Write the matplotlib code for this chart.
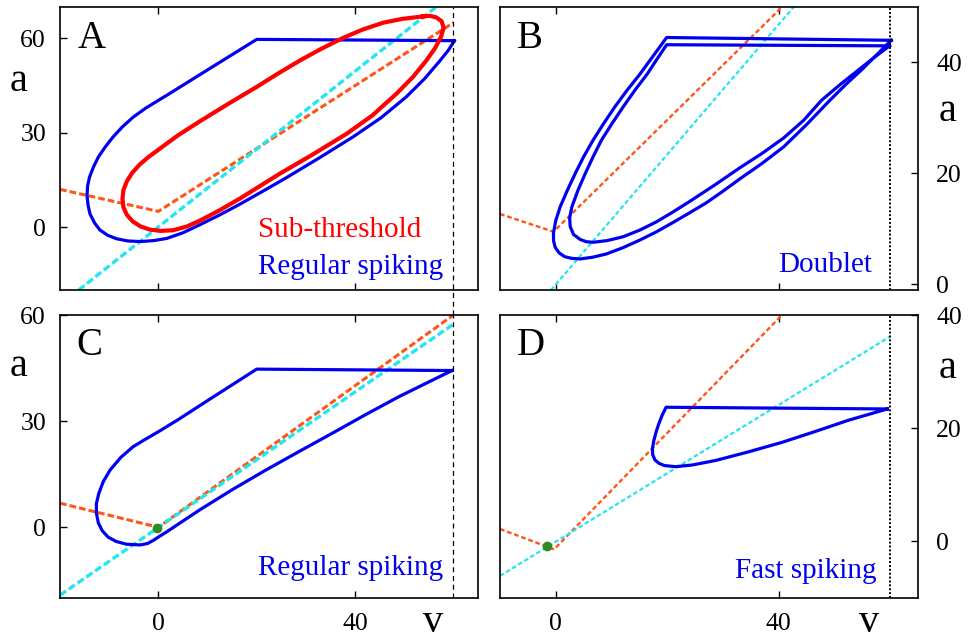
import numpy as np
import matplotlib.pyplot as plt

plt.rcParams['font.family'] = ['Liberation Serif', 'DejaVu Serif']

# ---- panel A: sub-threshold and regular spiking ----
a_rs_v = [60.2, 20.0, 10.0, 2.0, 0.0, -2.6, -5.1, -7.3, -9.2, -10.8, -12.2, -13.2, -14.0,
          -14.4, -14.5, -14.3, -13.9, -13.0, -11.9, -10.3, -8.5, -6.2, -3.7, -1.0, 1.7,
          5.0, 8.5, 12.5, 16.6, 21.0, 25.8, 32.5, 39.6, 45.3, 50.4, 54.2, 57.2, 59.0, 60.2]
a_rs_a = [59.3, 59.7, 50.0, 42.2, 40.3, 37.8, 35.0, 31.9, 28.7, 25.5, 22.3, 19.1, 15.9,
          13.0, 10.0, 7.0, 4.2, 1.4, -0.9, -2.6, -3.7, -4.4, -4.6, -4.3, -3.6,
          -1.8, 0.8, 3.9, 7.3, 11.2, 15.5, 21.8, 28.7, 34.8, 41.4, 47.3, 52.8, 56.3, 59.3]
a_sub_v = [53.8, 49.5, 45.7, 41.5, 37.6, 33.0, 28.8, 24.3, 20.0, 14.0, 8.5, 4.0, 0.0,
           -2.0, -3.8, -5.3, -6.4, -7.1, -7.3, -7.1, -6.4, -5.2, -3.6, -1.7, 0.5, 3.0,
           5.8, 8.5, 12.5, 16.6, 20.6, 24.7, 31.5, 38.3, 43.5, 48.4, 51.8, 54.5, 56.3,
           57.5, 58.0, 57.6, 56.5, 55.2, 53.8]
a_sub_a = [67.0, 66.2, 65.0, 62.8, 60.2, 56.6, 53.0, 48.8, 44.6, 39.0, 33.7, 29.2, 24.6,
           22.3, 19.9, 17.3, 14.6, 11.8, 9.0, 6.3, 3.9, 1.8, 0.2, -0.8, -1.2, -1.0,
           0.2, 2.1, 5.4, 9.1, 13.0, 17.0, 23.2, 29.7, 35.5, 42.4, 47.8, 53.0, 57.0,
           60.6, 63.4, 65.5, 66.7, 67.2, 67.0]
a_vnull_v = [-20, 0, 60]
a_vnull_a = [12, 5, 65]
a_anull_v = [-16.2, 56.5]
a_anull_a = [-20, 70]

# ---- panel B: doublet ----
b_out_v = [60.2, 19.9, 17.5, 15.1, 12.8, 10.6, 8.6, 6.7, 5.0, 3.5, 2.1, 0.8, 0.0, -0.4,
           -0.4, -0.1, 0.6, 1.6, 2.9, 4.4, 6.6, 9.1, 12.0, 15.1, 18.1, 21.1, 24.0, 27.0,
           30.0, 33.0, 37.0, 40.9, 45.0, 49.1, 52.0, 55.0, 57.6, 60.2]
b_out_a = [44.0, 44.5, 41.2, 37.9, 35.0, 32.0, 29.0, 26.0, 23.0, 20.0, 17.0, 14.0, 11.5, 9.3,
           7.9, 6.7, 5.7, 5.0, 4.7, 4.6, 4.9, 5.5, 6.6, 8.0, 9.5, 11.2, 12.9, 14.7,
           16.8, 19.0, 21.8, 24.8, 28.8, 33.1, 36.0, 38.8, 41.4, 44.0]
b_in_v = [59.9, 19.9, 18.1, 16.4, 14.2, 12.1, 10.1, 8.2, 6.7, 5.3, 4.0, 2.9, 2.5, 2.6, 3.2,
          4.4, 5.5, 6.7, 9.2, 12.1, 15.1, 18.1, 21.1, 24.1, 28.5, 33.0, 37.0, 40.9, 44.5,
          47.7, 51.0, 54.0, 57.0, 59.9]
b_in_a = [43.0, 43.2, 40.5, 37.9, 35.0, 32.0, 29.0, 26.0, 23.0, 20.0, 17.0, 14.0, 12.0, 10.4,
          9.0, 8.1, 7.7, 7.6, 7.9, 8.6, 9.8, 11.3, 13.1, 15.0, 17.9, 21.0, 23.6, 26.4, 29.6,
          33.2, 36.0, 38.4, 40.8, 43.0]
b_vnull_v = [-10, -0.4, 40.6]
b_vnull_a = [12.7, 9.5, 50]
b_anull_v = [-0.85, 42.7]
b_anull_a = [-1, 50]

# ---- panel C: regular spiking ----
c_rs_v = [59.7, 20.0, 10.0, 4.0, 0.0, -2.6, -5.1, -7.6, -9.8, -11.2, -12.1, -12.6, -12.6,
          -12.2, -11.4, -10.2, -8.6, -6.5, -3.7, -2.2, -1.0, 0.3, 1.7, 4.5, 8.4, 15.0,
          21.9, 28.6, 35.4, 42.1, 48.9, 54.3, 59.7]
c_rs_a = [44.3, 44.7, 35.8, 30.4, 27.0, 24.9, 22.8, 19.8, 16.2, 12.9, 9.6, 6.7, 4.0,
          1.2, -1.0, -2.8, -4.0, -4.8, -5.0, -4.6, -3.7, -2.5, -1.3, 1.3, 4.9, 10.6,
          16.2, 21.4, 26.6, 31.8, 36.9, 40.6, 44.3]
c_vnull_v = [-20, 0, 60]
c_vnull_a = [6.8, 0, 60]
c_anull_v = [-20, 60]
c_anull_a = [-19.2, 57.4]
c_fix = (-0.2, -0.2)

# ---- panel D: fast spiking ----
d_fs_v = [59.5, 19.8, 19.1, 18.5, 18.0, 17.6, 17.35, 17.4, 17.8, 18.5, 19.5, 21.5, 24.5,
          28.7, 34.5, 40.6, 46.5, 52.5, 56.0, 59.5]
d_fs_a = [23.4, 23.7, 22.3, 20.8, 19.3, 17.8, 16.4, 15.3, 14.4, 13.8, 13.4, 13.2, 13.5,
          14.3, 15.8, 17.5, 19.4, 21.4, 22.4, 23.4]
d_vnull_v = [-10, -0.3, 40.6]
d_vnull_a = [2.2, -1.4, 40]
d_anull_v = [-10, 60]
d_anull_a = [-6.1, 36.2]
d_fix = (-1.5, -0.9)

v_peak = 60

BLUE = '#0000ee'
RED = '#ff0000'
ORANGE = '#ff5515'
CYAN = '#22e6f0'
GREEN = '#2e8b22'

fig = plt.figure(figsize=(9.68, 6.43), dpi=100)
W, H = 968, 643


def box(l, t, r, b):
    return [l / W, 1 - b / H, (r - l) / W, (b - t) / H]


axA = fig.add_axes(box(60, 7, 478, 290))
axB = fig.add_axes(box(500, 7, 918, 290))
axC = fig.add_axes(box(60, 315, 478, 598))
axD = fig.add_axes(box(500, 315, 918, 598))


def style(ax, xlim, ylim, yticks, side, bottom_labels):
    ax.set_xlim(*xlim)
    ax.set_ylim(*ylim)
    ax.set_xticks([0, 40])
    ax.set_yticks(yticks)
    for s in ax.spines.values():
        s.set_linewidth(1.2)
    ax.tick_params(axis='x', direction='in', length=5, width=1, top=True, bottom=True,
                   labelbottom=bottom_labels, labelsize=18.5, pad=11)
    if side == 'left':
        ax.tick_params(axis='y', direction='in', length=5, width=1, left=True, right=False,
                       labelleft=True, labelright=False, labelsize=18.5, pad=10)
    else:
        ax.tick_params(axis='y', direction='in', length=5, width=1, left=False, right=True,
                       labelleft=False, labelright=True, labelsize=18.5, pad=13)


# A
axA.plot(a_vnull_v, a_vnull_a, color=ORANGE, lw=2.2, dashes=(2.2, 1))
axA.plot(a_anull_v, a_anull_a, color=CYAN, lw=2.4, dashes=(2.2, 1))
axA.plot(a_rs_v, a_rs_a, color=BLUE, lw=2.3)
axA.plot(a_sub_v, a_sub_a, color=RED, lw=3)
axA.axvline(v_peak, ymin=-0.09, ymax=1, color='black', lw=0.9, dashes=(4, 3), clip_on=False)
style(axA, (-20, 65), (-20, 70), [0, 30, 60], 'left', False)
axA.text(0.043, 0.855, 'A', transform=axA.transAxes, fontsize=28)
axA.text(0.864, 0.187, 'Sub-threshold', transform=axA.transAxes, fontsize=21,
         color=RED, ha='right')
axA.text(0.916, 0.057, 'Regular spiking', transform=axA.transAxes, fontsize=21,
         color=BLUE, ha='right')

# B
axB.plot(b_vnull_v, b_vnull_a, color=ORANGE, lw=1.7, dashes=(2, 1.2))
axB.plot(b_anull_v, b_anull_a, color=CYAN, lw=1.6, dashes=(2, 1.2))
axB.plot(b_out_v, b_out_a, color=BLUE, lw=2.3)
axB.plot(b_in_v, b_in_a, color=BLUE, lw=2.3)
axB.axvline(v_peak, color='black', lw=1.4, dashes=(1, 1))
style(axB, (-10, 65), (-1, 50), [0, 20, 40], 'right', False)
axB.text(0.04, 0.855, 'B', transform=axB.transAxes, fontsize=28)
axB.text(0.89, 0.064, 'Doublet', transform=axB.transAxes, fontsize=21,
         color=BLUE, ha='right')

# C
axC.plot(c_vnull_v, c_vnull_a, color=ORANGE, lw=2.2, dashes=(2.2, 1))
axC.plot(c_anull_v, c_anull_a, color=CYAN, lw=2.4, dashes=(2.2, 1))
axC.plot(c_rs_v, c_rs_a, color=BLUE, lw=2.3)
axC.plot(*c_fix, 'o', color=GREEN, ms=6)
axC.axvline(v_peak, color='black', lw=0.9, dashes=(4, 3))
style(axC, (-20, 65), (-20, 60), [0, 30, 60], 'left', True)
axC.text(0.04, 0.859, 'C', transform=axC.transAxes, fontsize=28)
axC.text(0.916, 0.081, 'Regular spiking', transform=axC.transAxes, fontsize=21,
         color=BLUE, ha='right')

# D
axD.plot(d_vnull_v, d_vnull_a, color=ORANGE, lw=1.7, dashes=(2, 1.2))
axD.plot(d_anull_v, d_anull_a, color=CYAN, lw=1.6, dashes=(2, 1.2))
axD.plot(d_fs_v, d_fs_a, color=BLUE, lw=2.3)
axD.plot(*d_fix, 'o', color=GREEN, ms=6)
axD.axvline(v_peak, color='black', lw=1.4, dashes=(1, 1))
style(axD, (-10, 65), (-10, 40), [0, 20, 40], 'right', True)
axD.text(0.04, 0.859, 'D', transform=axD.transAxes, fontsize=28)
axD.text(0.9, 0.071, 'Fast spiking', transform=axD.transAxes, fontsize=21,
         color=BLUE, ha='right')

# axis letters
fig.text(0.0194, 0.859, 'a', fontsize=29, ha='center')
fig.text(0.0194, 0.415, 'a', fontsize=29, ha='center')
fig.text(0.979, 0.812, 'a', fontsize=29, ha='center')
fig.text(0.979, 0.412, 'a', fontsize=29, ha='center')
fig.text(0.4475, 0.003, 'v', fontsize=29, ha='center', va='bottom')
fig.text(0.8977, 0.003, 'v', fontsize=29, ha='center', va='bottom')

fig.savefig('out.png', dpi=100)
